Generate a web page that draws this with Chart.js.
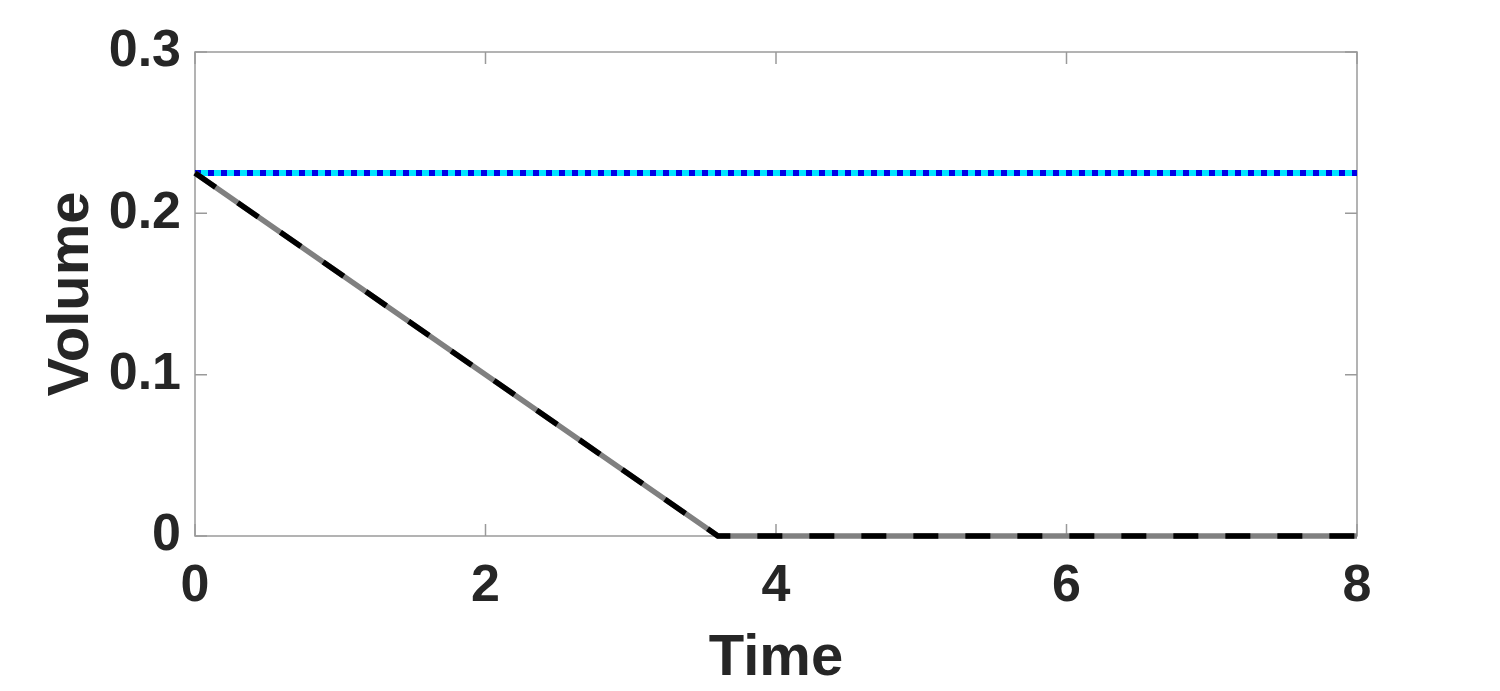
<!DOCTYPE html>
<html>
<head>
<meta charset="utf-8">
<script src="https://cdn.jsdelivr.net/npm/chart.js@4/dist/chart.umd.min.js"></script>
<style>
  body { margin: 0; background: #fff; }
  canvas { display: block; }
</style>
</head>
<body>
<canvas id="chart" width="1500" height="691"></canvas>
<script>
// data
const timeKnots = [0, 3.6, 8];
const volumeDecay = [0.225, 0, 0];
const timeConst = [0, 8];
const volumeConst = [0.225, 0.225];
const xTicks = [0, 2, 4, 6, 8];
const yTicks = [0, 0.1, 0.2, 0.3];

const FONT = "'Liberation Sans', Arial, sans-serif";
const TEXT = "#262626";
const BOX = "#9a9a9a";

function pts(xs, ys){
  return xs.map((x, i) => ({x: x, y: ys[i]}));
}

// matlab-like box with inward ticks on all four sides, under the lines
const boxPlugin = {
  id: "box",
  beforeDatasetsDraw(c){
    const {ctx, chartArea: a, scales} = c;
    const len = 12;
    ctx.save();
    ctx.strokeStyle = BOX;
    ctx.lineWidth = 1.5;
    ctx.strokeRect(a.left, a.top, a.right - a.left, a.bottom - a.top);
    ctx.beginPath();
    xTicks.forEach(v => {
      const px = scales.x.getPixelForValue(v);
      ctx.moveTo(px, a.bottom); ctx.lineTo(px, a.bottom - len);
      ctx.moveTo(px, a.top); ctx.lineTo(px, a.top + len);
    });
    yTicks.forEach(v => {
      const py = scales.y.getPixelForValue(v);
      ctx.moveTo(a.left, py); ctx.lineTo(a.left + len, py);
      ctx.moveTo(a.right, py); ctx.lineTo(a.right - len, py);
    });
    ctx.stroke();
    ctx.restore();
  }
};

// lower "order" is drawn on top
chart = new Chart(document.getElementById("chart"), {
  type: "line",
  data: {
    datasets: [
      {data: pts(timeConst, volumeConst), borderColor: "#00e5ff", borderWidth: 6, clip: false, order: 4},
      {data: pts(timeConst, volumeConst), borderColor: "#0000e6", borderWidth: 6, borderDash: [6, 7], clip: false, order: 3},
      {data: pts(timeKnots, volumeDecay), borderColor: "#808080", borderWidth: 5.5, clip: false, order: 2},
      {data: pts(timeKnots, volumeDecay), borderColor: "#000000", borderWidth: 5.5, borderDash: [25, 27], clip: false, order: 1}
    ]
  },
  options: {
    responsive: false,
    animation: false,
    events: [],
    elements: {
      point: {radius: 0},
      line: {tension: 0, borderCapStyle: "butt", borderJoinStyle: "miter"}
    },
    layout: {padding: {top: 52, right: 143, left: 0, bottom: 0}},
    plugins: {legend: {display: false}, tooltip: {enabled: false}},
    scales: {
      x: {
        type: "linear", min: 0, max: 8,
        grid: {display: false, drawTicks: false},
        border: {display: false},
        afterBuildTicks: s => { s.ticks = xTicks.map(v => ({value: v})); },
        afterFit: s => { s.height = 155; },
        ticks: {
          padding: 19, color: TEXT, maxRotation: 0,
          font: {family: FONT, size: 52, weight: "bold"},
          callback: v => String(v)
        },
        title: {
          display: true, text: "Time", color: TEXT,
          font: {family: FONT, size: 58, weight: "bold", lineHeight: 1},
          padding: {top: 0, bottom: 3}
        }
      },
      y: {
        type: "linear", min: 0, max: 0.3,
        grid: {display: false, drawTicks: false},
        border: {display: false},
        afterBuildTicks: s => { s.ticks = yTicks.map(v => ({value: v})); },
        afterFit: s => { s.width = 195; },
        ticks: {
          padding: 14, color: TEXT,
          font: {family: FONT, size: 52, weight: "bold"},
          callback: v => String(v)
        },
        title: {
          display: true, text: "Volume", color: TEXT,
          font: {family: FONT, size: 58, weight: "bold", lineHeight: 1},
          padding: {top: 43, bottom: 0}
        }
      }
    }
  },
  plugins: [boxPlugin]
});
</script>
</body>
</html>
